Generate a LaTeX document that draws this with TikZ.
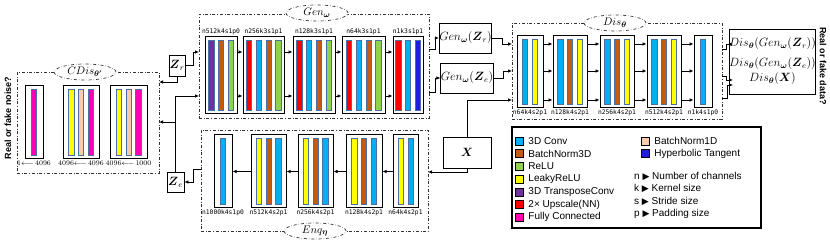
\documentclass[tikz,border=0pt]{standalone}
\usepackage{amsmath}
\usepackage{fontspec}
\setsansfont{Liberation Sans}
\newfontfamily\monofont{DejaVu Sans Mono}
\newfontfamily\symfont{DejaVu Sans}
\usepackage{xcolor}
\usepackage{tikz}
\usetikzlibrary{shapes.geometric, arrows.meta, positioning}

\definecolor{cconv}{HTML}{00B0F0}
\definecolor{cbnd}{HTML}{C55A11}
\definecolor{crelu}{HTML}{92D050}
\definecolor{cleaky}{HTML}{FFFF00}
\definecolor{ctrans}{HTML}{7030A0}
\definecolor{cup}{HTML}{FF0000}
\definecolor{cfc}{HTML}{FF00B4}
\definecolor{cbno}{HTML}{F8CBAD}
\definecolor{ctanh}{HTML}{1E1EDC}
\definecolor{barline}{HTML}{4A6FA5}

% bars inside a layer box: node, number of bars, colours
\newcommand{\fillbars}[3]{%
  \foreach \c [count=\i, evaluate=\i as \dx using (\i-(#2+1)/2)*9.8] in {#3}
    \draw[bar, fill=\c] ([xshift=\dx pt-2.6pt, yshift=-4pt]#1.north)
      rectangle ([xshift=\dx pt+2.6pt, yshift=4pt]#1.south);}

\begin{document}
\begin{tikzpicture}[x=1pt, y=-1pt,
  group/.style={draw=black!80, dash dot, line width=0.8pt},
  tag/.style={ellipse, draw=black!80, dash dot, line width=0.7pt, fill=white,
              minimum width=62, minimum height=16, inner sep=0pt,
              font=\fontsize{11}{13}\selectfont},
  layer/.style={draw=black, line width=1pt, fill=white, inner sep=0pt},
  bar/.style={draw=barline, line width=0.5pt},
  lbl/.style={font=\monofont\fontsize{6.3}{7}\selectfont, inner sep=1pt},
  cnt/.style={font=\fontsize{7}{8}\selectfont, inner sep=1pt},
  box/.style={draw=black, line width=0.8pt, fill=white, inner sep=0pt,
              font=\fontsize{11.5}{13}\selectfont},
  key/.style={draw=black, line width=0.5pt, minimum size=8, inner sep=0pt},
  keytext/.style={font=\sffamily\fontsize{10}{12}\selectfont, inner sep=0pt, anchor=west},
  side/.style={font=\sffamily\bfseries\fontsize{9}{11}\selectfont, inner sep=0pt},
  arrow/.style={-{Latex[length=4pt, width=3.5pt]}, line width=0.7pt}
]
  \useasboundingbox (0,0) rectangle (830,248);

  % groups
  \node[group, minimum width=142, minimum height=101] (cdis) at (88,122.5) {};
  \node[group, minimum width=230, minimum height=104] (gen) at (314,66) {};
  \node[group, minimum width=227, minimum height=101] (enc) at (314.5,180.5) {};
  \node[group, minimum width=210, minimum height=96] (dis) at (617,71) {};

  % generator
  \node[layer, minimum width=32, minimum height=77] (g1) at (221,75.5) {};
  \node[layer, minimum width=41, minimum height=77] (g2) at (263.5,75.5) {};
  \node[layer, minimum width=42, minimum height=77] (g3) at (314,75.5) {};
  \node[layer, minimum width=43, minimum height=77] (g4) at (363.5,75.5) {};
  \node[layer, minimum width=30, minimum height=77] (g5) at (408,75.5) {};
  \fillbars{g1}{3}{ctrans, cbnd, crelu}
  \fillbars{g2}{4}{cup, cconv, cbnd, crelu}
  \fillbars{g3}{4}{cup, cconv, cbnd, crelu}
  \fillbars{g4}{4}{cup, cconv, cbnd, crelu}
  \fillbars{g5}{3}{cup, cconv, ctanh}
  \node[lbl, above=0pt of g1] (g1l) {n512k4s1p0};
  \node[lbl, above=0pt of g2] (g2l) {n256k3s1p1};
  \node[lbl, above=0pt of g3] (g3l) {n128k3s1p1};
  \node[lbl, above=0pt of g4] (g4l) {n64k3s1p1};
  \node[lbl, above=0pt of g5] (g5l) {n1k3s1p1};

  % discriminator
  \node[layer, minimum width=26, minimum height=72] (d1) at (530,72) {};
  \node[layer, minimum width=34, minimum height=72] (d2) at (570,72) {};
  \node[layer, minimum width=34, minimum height=72] (d3) at (617,72) {};
  \node[layer, minimum width=34, minimum height=72] (d4) at (664,72) {};
  \node[layer, minimum width=18, minimum height=72] (d5) at (703,72) {};
  \fillbars{d1}{2}{cconv, cleaky}
  \fillbars{d2}{3}{cconv, cbnd, cleaky}
  \fillbars{d3}{3}{cconv, cbnd, cleaky}
  \fillbars{d4}{3}{cconv, cbnd, cleaky}
  \fillbars{d5}{1}{cconv}
  \node[lbl, below=0pt of d1] (d1l) {n64k4s2p1};
  \node[lbl, below=0pt of d2] (d2l) {n128k4s2p1};
  \node[lbl, below=0pt of d3] (d3l) {n256k4s2p1};
  \node[lbl, below=0pt of d4] (d4l) {n512k4s2p1};
  \node[lbl, below=0pt of d5] (d5l) {n1k4s1p0};

  % encoder
  \node[layer, minimum width=25, minimum height=73] (e1) at (405.5,171.5) {};
  \node[layer, minimum width=36, minimum height=73] (e2) at (364,171.5) {};
  \node[layer, minimum width=35, minimum height=73] (e3) at (315.5,171.5) {};
  \node[layer, minimum width=35, minimum height=73] (e4) at (268.5,171.5) {};
  \node[layer, minimum width=18, minimum height=73] (e5) at (223,171.5) {};
  \fillbars{e1}{2}{cleaky, cconv}
  \fillbars{e2}{3}{cleaky, cbnd, cconv}
  \fillbars{e3}{3}{cleaky, cbnd, cconv}
  \fillbars{e4}{3}{cleaky, cbnd, cconv}
  \fillbars{e5}{1}{cconv}
  \node[lbl, below=0pt of e1] (e1l) {n64k4s2p1};
  \node[lbl, below=0pt of e2] (e2l) {n128k4s2p1};
  \node[lbl, below=0pt of e3] (e3l) {n256k4s2p1};
  \node[lbl, below=0pt of e4] (e4l) {n512k4s2p1};
  \node[lbl, below=0pt of e5] (e5l) {n1000k4s1p0};

  % code discriminator
  \node[layer, minimum width=18, minimum height=73] (c1) at (34,122.5) {};
  \node[layer, minimum width=36, minimum height=73] (c2) at (81,122.5) {};
  \node[layer, minimum width=37, minimum height=73] (c3) at (128.5,122.5) {};
  \fillbars{c1}{1}{cfc}
  \fillbars{c2}{3}{cleaky, cbno, cfc}
  \fillbars{c3}{3}{cleaky, cbno, cfc}
  \node[cnt, below=0pt of c1] (c1l) {1$\longleftarrow$\,4096};
  \node[cnt, below=0pt of c2] (c2l) {4096$\longleftarrow$\,4096};
  \node[cnt, below=0pt of c3] (c3l) {4096$\longleftarrow$\,1000};

  % group names
  \node[tag] (cdisl) at (85,72) {$CDis_{\boldsymbol{\theta'}}$};
  \node[tag] (genl) at (317,13) {$Gen_{\boldsymbol{\omega}}$};
  \node[tag] (disl) at (615,23) {$Dis_{\boldsymbol{\theta}}$};
  \node[tag] (encl) at (315,231) {$Enq_{\boldsymbol{\eta}}$};

  % inputs and outputs
  \node[box, minimum width=16, minimum height=21] (zr) at (177,65.5) {$\boldsymbol{Z}_r$};
  \node[box, minimum width=17, minimum height=20] (ze) at (175.5,182) {$\boldsymbol{Z}_e$};
  \node[box, minimum width=47, minimum height=30] (gzr) at (465.5,38)
    {$Gen_{\boldsymbol{\omega}}(\boldsymbol{Z}_r)$};
  \node[box, minimum width=48, minimum height=30] (gze) at (467,78)
    {$Gen_{\boldsymbol{\omega}}(\boldsymbol{Z}_e)$};
  \node[box, minimum width=48, minimum height=31] (xin) at (467,152.5) {$\boldsymbol{X}$};
  \node[box, minimum width=79, minimum height=65, align=center] (res) at (772.5,61.5)
    {$Dis_{\boldsymbol{\theta}}(Gen_{\boldsymbol{\omega}}(\boldsymbol{Z}_r))$\\[7pt]
     $Dis_{\boldsymbol{\theta}}(Gen_{\boldsymbol{\omega}}(\boldsymbol{Z}_e))$\\[2pt]
     $Dis_{\boldsymbol{\theta}}(\boldsymbol{X})$};
  \node[side, rotate=90] (noise) at (8,118) {Real or fake noise?};
  \node[side, rotate=-90] (data) at (823,66) {Real or fake data?};

  % legend
  \node[draw=black, line width=1.2pt, minimum width=249, minimum height=101] (legend) at (636.5,177.5) {};
  \foreach \c/\t [count=\i] in {cconv/3D Conv, cbnd/BatchNorm3D, crelu/ReLU,
      cleaky/LeakyReLU, ctrans/3D TransposeConv, cup/2× Upscale(NN), cfc/Fully Connected}
  {
    \node[key, fill=\c] (key\i) at (519,{141+12.7*(\i-1)}) {};
    \node[keytext, right=5pt of key\i] (txt\i) {\t};
  }
  \node[key, fill=cbno] (key8) at (645,141) {};
  \node[keytext, right=5pt of key8] (txt8) {BatchNorm1D};
  \node[key, fill=ctanh] (key9) at (645,153.7) {};
  \node[keytext, right=5pt of key9] (txt9) {Hyperbolic Tangent};
  \node[keytext] (hn) at (634,176) {n {\symfont\fontsize{9}{10}\selectfont ▶} Number of channels};
  \node[keytext] (hk) at (634,188.7) {k {\symfont\fontsize{9}{10}\selectfont ▶} Kernel size};
  \node[keytext] (hs) at (634,201.4) {s {\symfont\fontsize{9}{10}\selectfont ▶} Stride size};
  \node[keytext] (hp) at (634,214.1) {p {\symfont\fontsize{9}{10}\selectfont ▶} Padding size};

  % connectors
  \coordinate (gin1) at (199,52);
  \coordinate (gin2) at (199,96);
  \coordinate (cin1) at (159,82);
  \coordinate (cin2) at (159,122);
  \coordinate (eout) at (201,169);
  \coordinate (ein) at (428,172);
  \coordinate (gout1) at (429,49);
  \coordinate (gout2) at (429,92);
  \coordinate (din1) at (512,44);
  \coordinate (din2) at (512,71);
  \coordinate (din3) at (512,100);
  \coordinate (dout1) at (722,49);
  \coordinate (dout2) at (722,76);
  \coordinate (dout3) at (722,98);
  \coordinate (rin1) at (733,44);
  \coordinate (rin2) at (733,80);
  \coordinate (rin3) at (733,85);

  \foreach \a/\b in {g1/g2, g2/g3, g3/g4, g4/g5}
    \foreach \r in {gin1, gin2}
      \draw[arrow] (\a.east |- \r) -- (\b.west |- \r);
  \foreach \a/\b in {d1/d2, d2/d3, d3/d4, d4/d5}
    \foreach \r in {din1, din2, din3}
      \draw[arrow] (\a.east |- \r) -- (\b.west |- \r);
  \foreach \a/\b in {e1/e2, e2/e3, e3/e4, e4/e5}
    \draw[arrow] (\a.west) -- (\b.east);

  \draw[arrow] (zr.east) -- ++(8,0) |- (gin1);
  \draw[arrow] (zr.south) |- (cin1);
  \draw[arrow] (ze.north) |- (gin2);
  \draw[arrow] (ze.north |- cin2) -- (cin2);
  \draw[arrow] (eout) -- ++(-8,0) |- (ze.east);
  \draw[arrow] (gout1) -- ++(6,0) |- (gzr.west);
  \draw[arrow] (gout2) -- ++(6,0) |- (gze.west);
  \draw[arrow] (gzr.east) -- ++(10,0) |- (din1);
  \draw[arrow] (gze.east) -- ++(10,0) |- (din2);
  \draw[arrow] (xin.north) |- (din3);
  \draw[arrow] (xin.south) |- (ein);
  \draw[arrow] (dout1) -- ++(4,0) |- (rin1);
  \draw[arrow] (dout2) -- ++(4,0) |- (rin2);
  \draw[arrow] (dout3) -- ++(5,0) |- (rin3);
\end{tikzpicture}
\end{document}
